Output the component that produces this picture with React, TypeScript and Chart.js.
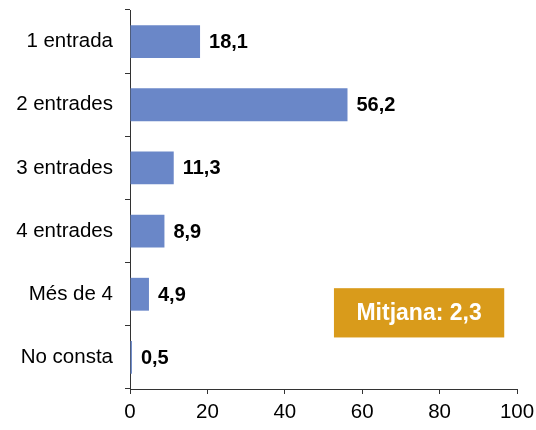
import React, { useEffect, useRef } from "react";
import { Chart, registerables } from "chart.js";

Chart.register(...registerables);

const categories = ["1 entrada", "2 entrades", "3 entrades", "4 entrades", "Més de 4", "No consta"];
const values = [18.1, 56.2, 11.3, 8.9, 4.9, 0.5];
const xTicks = [0, 20, 40, 60, 80, 100];
const meanLabel = "Mitjana: 2,3";

const FONT = "'Liberation Sans', Arial, sans-serif";

const labelPlugin = {
  id: "valueLabels",
  afterDatasetsDraw(chart: any) {
    const ctx = chart.ctx;
    const meta = chart.getDatasetMeta(0);
    ctx.save();
    ctx.font = `bold 20px ${FONT}`;
    ctx.fillStyle = "#000";
    ctx.textAlign = "left";
    ctx.textBaseline = "middle";
    meta.data.forEach((bar: any, i: number) => {
      const txt = values[i].toFixed(1).replace(".", ",");
      ctx.fillText(txt, bar.x + 9, bar.y + 1);
    });
    ctx.restore();
  },
};

const boxPlugin = {
  id: "meanBox",
  afterDraw(chart: any) {
    const ctx = chart.ctx;
    const a = chart.chartArea;
    const w = a.right - a.left;
    const h = a.bottom - a.top;
    const left = a.left + w * 0.527;
    const right = a.left + w * 0.967;
    const top = a.top + h * 0.734;
    const bottom = a.top + h * 0.864;
    ctx.save();
    ctx.fillStyle = "#D99B1B";
    ctx.fillRect(left, top, right - left, bottom - top);
    ctx.font = `bold 23px ${FONT}`;
    ctx.fillStyle = "#fff";
    ctx.textAlign = "center";
    ctx.textBaseline = "middle";
    ctx.fillText(meanLabel, (left + right) / 2, (top + bottom) / 2 + 1);
    ctx.restore();
  },
};

export default function App() {
  const ref = useRef<HTMLCanvasElement>(null);
  useEffect(() => {
    document.body.style.margin = "0";
    const chart = new Chart(ref.current!, {
      type: "bar",
      data: {
        labels: categories,
        datasets: [
          {
            data: values,
            backgroundColor: "#6A87C8",
            barPercentage: 0.52,
            categoryPercentage: 1,
          },
        ],
      },
      options: {
        indexAxis: "y",
        animation: false,
        responsive: false,
        maintainAspectRatio: false,
        layout: { padding: { top: 10, right: 19, left: 0, bottom: 0 } },
        plugins: { legend: { display: false }, tooltip: { enabled: false } },
        scales: {
          x: {
            min: 0,
            max: 100,
            afterBuildTicks: (s: any) => {
              s.ticks = xTicks.map((v) => ({ value: v }));
            },
            afterFit: (s: any) => {
              s.height = 41;
              s.paddingLeft = 0;
              s.paddingRight = 0;
            },
            grid: { drawOnChartArea: false, tickLength: 5, color: "#333" },
            border: { color: "#333", width: 1 },
            ticks: { color: "#000", font: { family: FONT, size: 20.5 }, padding: 6, maxRotation: 0 },
          },
          y: {
            afterFit: (s: any) => {
              s.width = 130;
              s.paddingTop = 0;
              s.paddingBottom = 0;
            },
            grid: { drawOnChartArea: false, tickLength: 5, color: "#333", offset: true },
            border: { color: "#333", width: 1 },
            ticks: { color: "#000", font: { family: FONT, size: 20.5 }, padding: 12 },
          },
        },
      },
      plugins: [labelPlugin, boxPlugin],
    });
    return () => chart.destroy();
  }, []);
  return <canvas ref={ref} width={536} height={430} style={{ display: "block" }} />;
}
